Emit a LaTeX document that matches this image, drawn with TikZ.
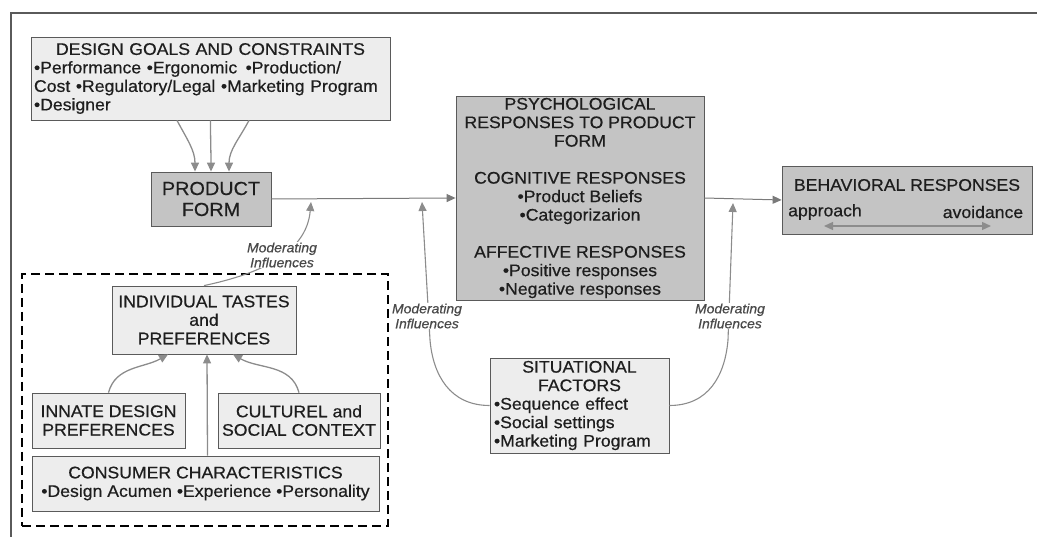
\documentclass[tikz,border=0pt]{standalone}
\usepackage{fontspec}
\setmainfont{Liberation Sans}[FakeStretch=1.05, FakeBold=0.5]
\usetikzlibrary{arrows.meta}
\definecolor{boxline}{HTML}{5A5A5A}
\definecolor{lightfill}{HTML}{EDEDED}
\definecolor{darkfill}{HTML}{C4C4C4}
\definecolor{arrowgray}{HTML}{8C8C8C}
\definecolor{linegray}{HTML}{7A7A7A}
\definecolor{textgray}{HTML}{1E1E1E}
\definecolor{modgray}{HTML}{4A4A4A}
\begin{document}
\begin{tikzpicture}[x=1pt, y=-1pt,
        txt/.style={text=textgray, inner sep=0pt, font=\fontsize{16.8}{18.5}\selectfont},
        lightbox/.style={txt, draw=boxline, fill=lightfill, line width=0.8pt},
        darkbox/.style={lightbox, fill=darkfill},
        flow/.style={draw=arrowgray, line width=1.3pt, -{Triangle[length=9pt,width=8pt]}},
        mainflow/.style={flow, draw=linegray, line width=1pt},
        modflow/.style={flow, line width=1.1pt},
        modlabel/.style={fill=white, inner sep=1pt, text=modgray, align=center, font=\fontsize{13.3}{15}\selectfont\itshape}]
    \useasboundingbox (0,0) rectangle (1037,537);
    \draw[boxline, line width=1.2pt] (1037,13) -- (11,13) -- (11,537);

    \node[lightbox, minimum width=359pt, minimum height=83pt, text width=353pt, align=left] (goals) at (210.5,78.5)
        {{\centering DESIGN GOALS AND CONSTRAINTS\par}•Performance •Ergonomic \,•Production/\\Cost •Regulatory/Legal •Marketing Program\\•Designer};
    \node[darkbox, minimum width=120pt, minimum height=54pt, align=center, font=\fontsize{18.9}{21}\selectfont] (prod) at (211,199) {PRODUCT\\FORM};
    \node[darkbox, minimum width=248pt, minimum height=204pt, align=center] (psych) at (580,198)
        {PSYCHOLOGICAL\\RESPONSES TO PRODUCT\\FORM\\[18.5pt]COGNITIVE RESPONSES\\•Product Beliefs\\•Categorizarion\\[18.5pt]AFFECTIVE RESPONSES\\•Positive responses\\•Negative responses};
    \node[darkbox, minimum width=250pt, minimum height=68pt] (behav) at (907,200) {};
    \node[txt] (behavtitle) at (907,185) {BEHAVIORAL RESPONSES};
    \node[txt] (approach) at (825,212) {approach};
    \node[txt] (avoidance) at (983,212) {avoidance};
    \coordinate (apprend) at (824,226);
    \coordinate (avoidend) at (991,226);

    \node[draw=black, dash pattern=on 9pt off 5pt, line width=1.2pt, minimum width=366pt, minimum height=252pt] (consgroup) at (205,400) {};
    \node[lightbox, minimum width=184pt, minimum height=68pt, align=center] (tastes) at (204,320) {INDIVIDUAL TASTES\\and\\PREFERENCES};
    \node[lightbox, minimum width=153pt, minimum height=55pt, align=center] (innate) at (108.5,420.5) {INNATE DESIGN\\PREFERENCES};
    \node[lightbox, minimum width=162pt, minimum height=55pt, align=center] (culture) at (299,420.5) {CULTUREL and\\SOCIAL CONTEXT};
    \node[lightbox, minimum width=347pt, minimum height=55pt, align=center] (consumer) at (205.5,483.5) {CONSUMER CHARACTERISTICS\\•Design Acumen •Experience •Personality};

    \node[lightbox, minimum width=179pt, minimum height=95pt, text width=171pt, align=left] (sit) at (579.5,405.5)
        {{\centering SITUATIONAL\\FACTORS\par}•Sequence effect\\•Social settings\\•Marketing Program};

    \coordinate (modA) at (311,202);
    \coordinate (modB) at (422,202);
    \coordinate (modC) at (733,203);

    \foreach \sx/\ex/\o in {-33.5/-16/-62, 0/0/-90, 38.5/18/-118} {
        \draw[flow] ([xshift=\sx pt]goals.south) to[out=\o, in=90] ([xshift=\ex pt]prod.north);
    }
    \draw[mainflow] (prod.east) -- (psych.west);
    \draw[mainflow] (psych.east) -- (behav.west);
    \draw[flow, {Triangle[length=9pt,width=8pt]}-{Triangle[length=9pt,width=8pt]}] (apprend) -- (avoidend);

    \draw[flow] (innate.north) to[out=75, in=-150] ([xshift=-36pt]tastes.south);
    \draw[flow] (culture.north) to[out=105, in=-30] ([xshift=29pt]tastes.south);
    \draw[flow] ([xshift=2pt]consumer.north) -- ([xshift=3pt]tastes.south);

    \draw[modflow] (tastes.north) to[out=12, in=-95] (modA);
    \draw[modflow] (sit.west) .. controls (450,405.5) and (433,375) .. (430,340) -- (modB);
    \draw[modflow] (sit.east) .. controls (709,405.5) and (725,375) .. (728,340) -- (modC);

    \node[modlabel] (modtextA) at (282,255) {Moderating\\Influences};
    \node[modlabel] (modtextB) at (427,316) {Moderating\\Influences};
    \node[modlabel] (modtextC) at (730,316) {Moderating\\Influences};
\end{tikzpicture}
\end{document}
